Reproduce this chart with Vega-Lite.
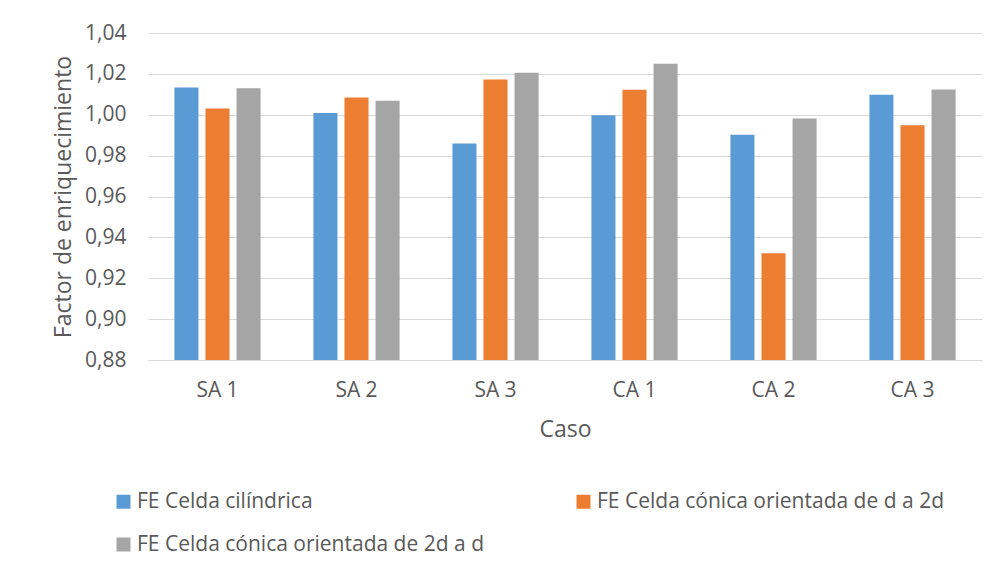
{
  "$schema": "https://vega.github.io/schema/vega-lite/v6.json",
  "width": 834,
  "height": 327,
  "autosize": {"type": "none"},
  "padding": {"left": 148, "top": 33, "right": 19, "bottom": 217},
  "background": "white",
  "data": {
    "values": [
      {"caso": "SA 1", "serie": "FE Celda cilíndrica", "valor": 1.0133},
      {"caso": "SA 1", "serie": "FE Celda cónica orientada de d a 2d", "valor": 1.0031},
      {"caso": "SA 1", "serie": "FE Celda cónica orientada de 2d a d", "valor": 1.0130},
      {"caso": "SA 2", "serie": "FE Celda cilíndrica", "valor": 1.0008},
      {"caso": "SA 2", "serie": "FE Celda cónica orientada de d a 2d", "valor": 1.0084},
      {"caso": "SA 2", "serie": "FE Celda cónica orientada de 2d a d", "valor": 1.0068},
      {"caso": "SA 3", "serie": "FE Celda cilíndrica", "valor": 0.9859},
      {"caso": "SA 3", "serie": "FE Celda cónica orientada de d a 2d", "valor": 1.0172},
      {"caso": "SA 3", "serie": "FE Celda cónica orientada de 2d a d", "valor": 1.0206},
      {"caso": "CA 1", "serie": "FE Celda cilíndrica", "valor": 0.9998},
      {"caso": "CA 1", "serie": "FE Celda cónica orientada de d a 2d", "valor": 1.0122},
      {"caso": "CA 1", "serie": "FE Celda cónica orientada de 2d a d", "valor": 1.0250},
      {"caso": "CA 2", "serie": "FE Celda cilíndrica", "valor": 0.9902},
      {"caso": "CA 2", "serie": "FE Celda cónica orientada de d a 2d", "valor": 0.9322},
      {"caso": "CA 2", "serie": "FE Celda cónica orientada de 2d a d", "valor": 0.9982},
      {"caso": "CA 3", "serie": "FE Celda cilíndrica", "valor": 1.0098},
      {"caso": "CA 3", "serie": "FE Celda cónica orientada de d a 2d", "valor": 0.9949},
      {"caso": "CA 3", "serie": "FE Celda cónica orientada de 2d a d", "valor": 1.0123}
    ]
  },
  "mark": {"type": "bar"},
  "encoding": {
    "x": {
      "field": "caso",
      "type": "nominal",
      "sort": null,
      "scale": {"paddingInner": 0.38, "paddingOuter": 0.19},
      "axis": {
        "title": "Caso",
        "labelAngle": 0,
        "labelPadding": 19,
        "titlePadding": 18,
        "ticks": false,
        "domainColor": "#D9D9D9",
        "domainWidth": 1,
        "labelFont": "Open Sans",
        "labelFontSize": 21,
        "labelColor": "#595959",
        "titleFont": "Open Sans",
        "titleFontSize": 23,
        "titleFontWeight": "normal",
        "titleColor": "#595959"
      }
    },
    "xOffset": {
      "field": "serie",
      "type": "nominal",
      "sort": null,
      "scale": {"paddingInner": 0.226}
    },
    "y": {
      "field": "valor",
      "type": "quantitative",
      "scale": {"domain": [0.88, 1.04], "zero": false, "nice": false},
      "axis": {
        "title": "Factor de enriquecimiento",
        "values": [0.88, 0.9, 0.92, 0.94, 0.96, 0.98, 1.0, 1.02, 1.04],
        "labelExpr": "replace(format(datum.value, '.2f'), '.', ',')",
        "domain": false,
        "ticks": false,
        "labelPadding": 22,
        "titlePadding": 9,
        "gridColor": "#D9D9D9",
        "gridWidth": 1,
        "labelFont": "Open Sans",
        "labelFontSize": 21,
        "labelColor": "#595959",
        "titleFont": "Open Sans",
        "titleFontSize": 23,
        "titleFontWeight": "normal",
        "titleColor": "#595959"
      }
    },
    "y2": {"datum": 0.88},
    "color": {
      "field": "serie",
      "type": "nominal",
      "sort": null,
      "scale": {
        "domain": ["FE Celda cilíndrica", "FE Celda cónica orientada de 2d a d", "FE Celda cónica orientada de d a 2d"],
        "range": ["#5B9BD5", "#A5A5A5", "#ED7D31"]
      },
      "legend": {
        "title": null,
        "orient": "none",
        "legendX": -35,
        "legendY": 458,
        "columns": 2,
        "columnPadding": 88,
        "rowPadding": 21,
        "symbolType": "square",
        "symbolSize": 196,
        "symbolStrokeWidth": 0,
        "labelOffset": 3,
        "labelFont": "Open Sans",
        "labelFontSize": 21,
        "labelColor": "#595959",
        "labelLimit": 600
      }
    }
  },
  "config": {
    "font": "Open Sans",
    "view": {"stroke": null}
  }
}
